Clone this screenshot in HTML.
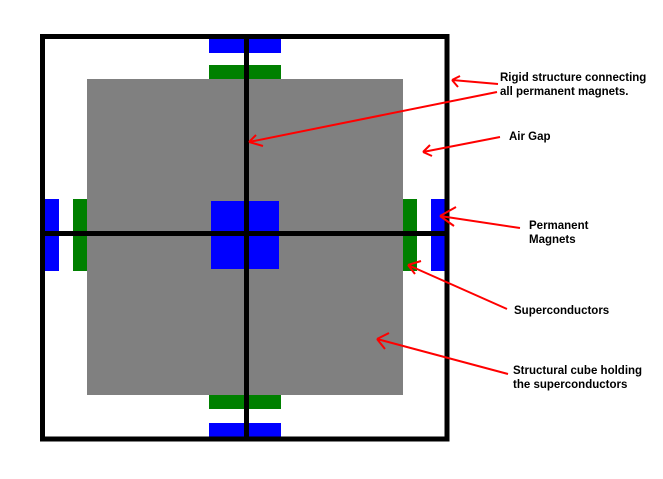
<!DOCTYPE html>
<html><head><style>
body{margin:0;background:#fff;width:663px;height:479px;overflow:hidden;position:relative;font-family:"Liberation Sans",Arial,sans-serif}
.r{position:absolute}
.t{position:absolute;font-weight:bold;font-size:11.5px;line-height:14px;color:#000;white-space:nowrap}
</style></head><body>
<svg class="r" style="left:0;top:0" width="663" height="479">
<rect x="87" y="79" width="316" height="316" fill="#808080"/>
<g fill="#0000ff">
<rect x="209" y="39" width="72" height="14"/>
<rect x="209" y="423" width="72" height="14"/>
<rect x="45" y="199" width="14" height="72"/>
<rect x="431" y="199" width="14" height="72"/>
<rect x="211" y="201" width="68" height="68"/>
</g>
<g fill="#008000">
<rect x="209" y="65" width="72" height="14"/>
<rect x="209" y="395" width="72" height="14"/>
<rect x="73" y="199" width="14" height="72"/>
<rect x="403" y="199" width="14" height="72"/>
</g>
<rect x="42.5" y="36.5" width="404.5" height="402.5" fill="none" stroke="#000" stroke-width="5"/>
<rect x="244" y="36" width="5" height="404" fill="#000"/>
<rect x="42" y="231" width="405" height="5" fill="#000"/>
<g stroke="#f00" stroke-width="2" fill="none">
<path d="M498,84 L452,80 M452,80 L460,76 M452,80 L458,87"/>
<path d="M497,92 L249,142 M249,142 L256,135 M249,142 L263,146"/>
<path d="M500,137 L423,152 M423,152 L430,145 M423,152 L432,156"/>
<path d="M520,228 L440,216 M440,216 L456,207 M440,216 L454,226"/>
<path d="M507,309 L408,265 M408,265 L421,261 M408,265 L415,274"/>
<path d="M508,374 L377,339 M377,339 L389,333 M377,339 L385,349"/>
</g>
</svg>
<div class="t" style="left:500px;top:71px">Rigid structure connecting<br>all permanent magnets.</div>
<div class="t" style="left:509px;top:130px">Air Gap</div>
<div class="t" style="left:529px;top:219px">Permanent<br>Magnets</div>
<div class="t" style="left:514px;top:304px">Superconductors</div>
<div class="t" style="left:513px;top:364px">Structural cube holding<br>the superconductors</div>
</body></html>
